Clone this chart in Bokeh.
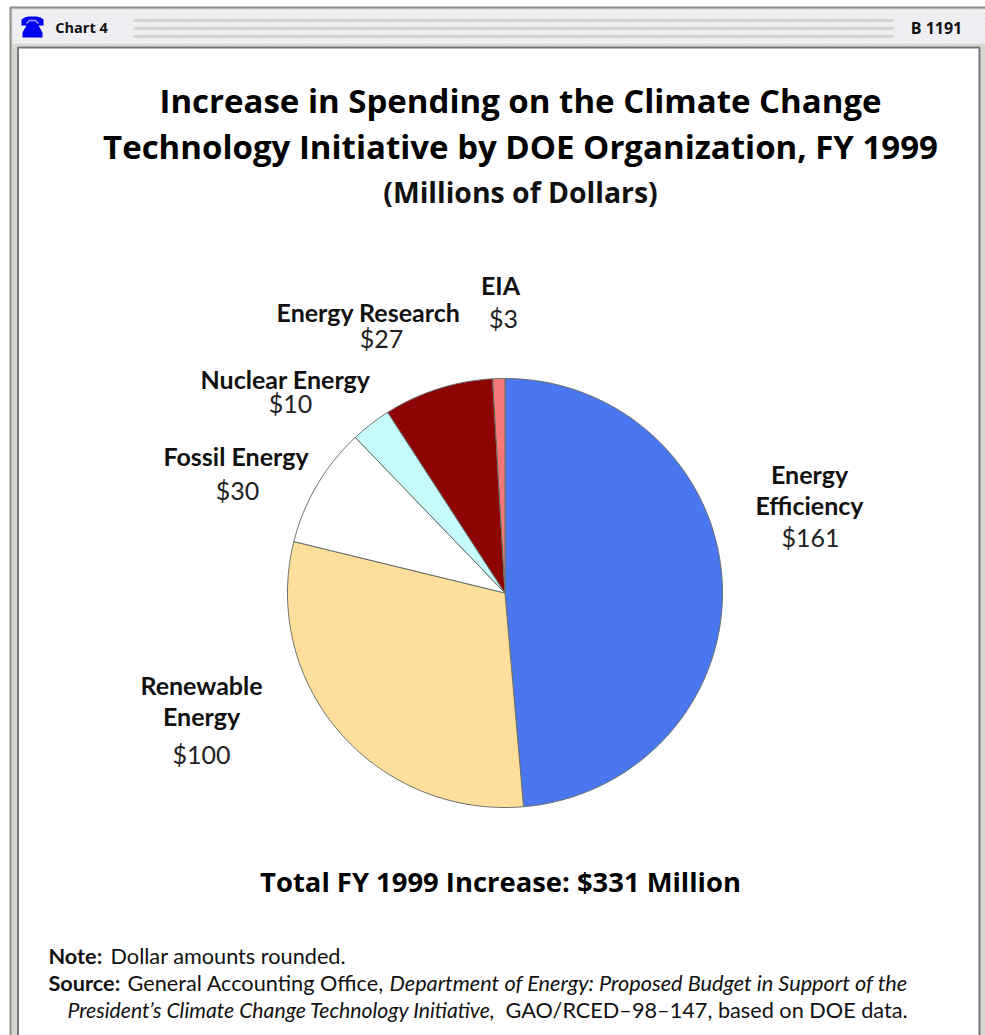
from bokeh.embed import file_html
from bokeh.resources import INLINE
from bokeh.plotting import figure
from bokeh.core.properties import value
from bokeh.models import Range1d
import math

# Budget increase by DOE organization, millions of dollars
organizations = ["Energy Efficiency", "Renewable Energy", "Fossil Energy",
                 "Nuclear Energy", "Energy Research", "EIA"]
amounts = [161, 100, 30, 10, 27, 3]
slice_colors = ["#4a76ef", "#ffdd9a", "#ffffff", "#c6fbfb", "#8e0303", "#f87878"]

title_lines = ["Increase in Spending on the Climate Change",
               "Technology Initiative by DOE Organization, FY 1999"]
subtitle = "(Millions of Dollars)"
total_line = "Total FY 1999 Increase: $331 Million"

W, H = 985, 1035
p = figure(width=W, height=H, output_backend="svg", toolbar_location=None,
           x_range=Range1d(0, W), y_range=Range1d(H, 0), min_border=0,
           x_axis_type=None, y_axis_type=None, outline_line_color=None,
           background_fill_color="#ffffff", border_fill_color="#ffffff")
p.grid.visible = False


def band(left, right, top, bottom, fill, line=None, width=1, **extra):
    p.quad(left=[left], right=[right], top=[top], bottom=[bottom],
           fill_color=fill, line_color=line, line_width=width, **extra)


def label(x, y, text, size, style="normal", font="Lato", color="#111111", align="center"):
    p.text([x], [y], text=[text], text_font=value(font), text_font_size=f"{size}px",
           text_font_style=style, text_color=color, text_align=align,
           text_baseline="middle")


# Window frame, hatched header strip and content panel
band(10, 990, 7, 1040, "#d8d8d2", "#8e8e86", 2)
band(12, 986, 9, 43, "#e6e6f0", hatch_pattern="right_diagonal_line",
     hatch_color="#fbfbf4", hatch_scale=5, hatch_weight=1)
for y in (20, 28, 36):
    band(133, 893, y - 1.5, y + 1.5, "#d4d4d0")
band(17.5, 979, 47, 1040, "#ffffff", "#77777a", 2)

# Telephone icon in the header
p.patch([21, 24, 28, 36, 40, 43, 43, 38, 42, 42, 22, 22, 26, 21],
        [19, 17, 16, 16, 17, 19, 25, 25, 32, 37, 37, 32, 25, 25],
        fill_color="#0000f0", line_color=None)
p.line([26, 29, 35, 38], [23, 20, 20, 23], line_color="#9a9aff", line_width=1.5)
label(81, 27, "Chart 4", 14.5, "bold", "Open Sans", "#111111")
label(936, 27, "B 1191", 16, "bold", "Open Sans", "#111111")

# Headings
label(520, 100, title_lines[0], 33, "bold", "Open Sans", "#000000")
label(520, 146, title_lines[1], 33, "bold", "Open Sans", "#000000")
label(520, 191, subtitle, 28.4, "bold", "Open Sans", "#111111")

# Pie slices run clockwise from twelve o'clock
cx, cy, rx, ry = 504.5, 592.5, 217.5, 214.5
total = sum(amounts)
theta = -math.pi / 2
for amount, color in zip(amounts, slice_colors):
    next_theta = theta + 2 * math.pi * amount / total
    n = max(3, int(amount * 2))
    xs = [cx] + [cx + rx * math.cos(theta + (next_theta - theta) * i / n) for i in range(n + 1)]
    ys = [cy] + [cy + ry * math.sin(theta + (next_theta - theta) * i / n) for i in range(n + 1)]
    p.patch(xs, ys, fill_color=color, line_color="#666e68", line_width=1)
    theta = next_theta

# Slice captions: organization name(s) over the amount
captions = [
    ([(809, 473, "Energy"), (809, 504, "Efficiency")], (810, 536, amounts[0])),
    ([(201, 684, "Renewable"), (201, 715, "Energy")], (201, 753, amounts[1])),
    ([(235.5, 455, "Fossil Energy")], (237, 489, amounts[2])),
    ([(285, 378, "Nuclear Energy")], (290, 402, amounts[3])),
    ([(368, 311, "Energy Research")], (381, 337, amounts[4])),
    ([(500, 284, "EIA")], (503, 317, amounts[5])),
]
for names, (amount_x, amount_y, amount) in captions:
    for x, y, name in names:
        label(x, y, name, 25, "bold", "Lato")
    label(amount_x, amount_y, f"${amount}", 25, "normal", "Lato", "#222222")

label(500, 881, total_line, 27.4, "bold", "Open Sans", "#000000")

# Notes below the chart
NOTE = 21.7
label(48, 955, "Note:", NOTE, "bold", "Lato", align="left")
label(110, 955, "Dollar amounts rounded.", NOTE, "normal", "Lato", align="left")
label(48, 982, "Source:", NOTE, "bold", "Lato", align="left")
label(127, 982, "General Accounting Office,", NOTE, "normal", "Lato", align="left")
label(389, 982, "Department of Energy: Proposed Budget in Support of the", NOTE, "italic", "Lato", align="left")
label(67, 1009, "President’s Climate Change Technology Initiative,", 21.2, "italic", "Lato", align="left")
label(505, 1009, "GAO/RCED–98–147, based on DOE data.", NOTE, "normal", "Lato", align="left")

open("out.html", "w").write(file_html(p, INLINE))
